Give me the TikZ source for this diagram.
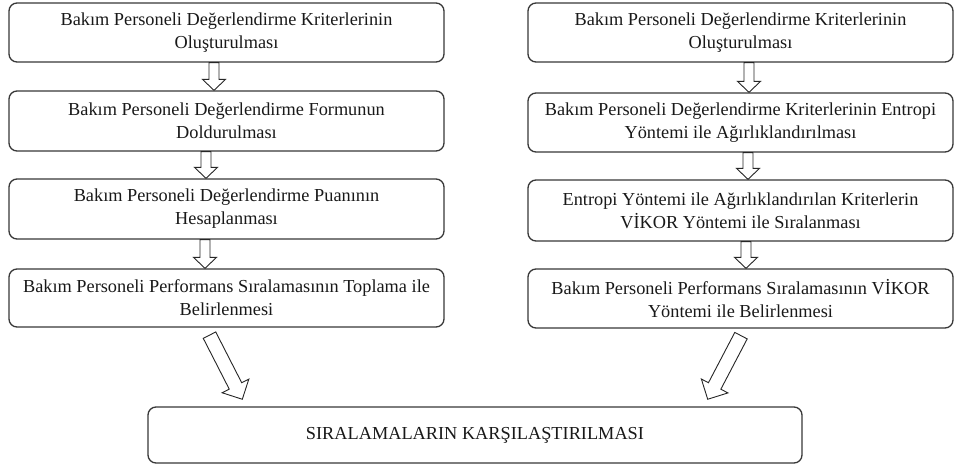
\documentclass[tikz,border=0pt]{standalone}
\usepackage{fontspec}
\setmainfont{Liberation Serif}
\usetikzlibrary{calc}
\newcommand{\fatarrow}[5]{%
  \draw[fatarr] let \p1=#1, \p2=#2,
    \n1={atan2(\y2-\y1,\x2-\x1)}, \n2={veclen(\x2-\x1,\y2-\y1)} in
    [shift={(\p1)}, rotate=\n1]
    (0pt,-#3pt) -- (\n2-#5pt,-#3pt) -- (\n2-#5pt,-#4pt) -- (\n2,0pt)
    -- (\n2-#5pt,#4pt) -- (\n2-#5pt,#3pt) -- (0pt,#3pt) -- cycle;}
\begin{document}
\begin{tikzpicture}[x=1pt,y=1pt,
  box/.style={draw=black!78, line width=1.3pt, rounded corners=8pt, align=center,
    font=\fontsize{18.3}{23}\selectfont, inner sep=0pt, text=black!90},
  lbox/.style={box, minimum width=435pt},
  rbox/.style={box, minimum width=425pt},
  fatarr/.style={draw=black!85, line width=0.9pt, fill=white, line join=miter}]
\useasboundingbox (0,0) rectangle (954,-469);
\fill[white] (0,0) rectangle (954,-469);
% left column
\node[lbox, minimum height=59pt] (L1) at (226.5,-32.5) {Bakım Personeli Değerlendirme Kriterlerinin\\Oluşturulması};
\node[lbox, minimum height=60pt] (L2) at (226.5,-121) {Bakım Personeli Değerlendirme Formunun\\Doldurulması};
\node[lbox, minimum height=60pt] (L3) at (226.5,-209) {Bakım Personeli Değerlendirme Puanının\\Hesaplanması};
\node[lbox, minimum height=58pt] (L4) at (226.5,-298) {Bakım Personeli Performans Sıralamasının Toplama ile\\Belirlenmesi};
% right column
\node[rbox, minimum height=59pt] (R1) at (740.5,-32.5) {Bakım Personeli Değerlendirme Kriterlerinin\\Oluşturulması};
\node[rbox, minimum height=59pt] (R2) at (740.5,-122.5) {Bakım Personeli Değerlendirme Kriterlerinin Entropi\\Yöntemi ile Ağırlıklandırılması};
\node[rbox, minimum height=61pt] (R3) at (740.5,-210.5) {Entropi Yöntemi ile Ağırlıklandırılan Kriterlerin\\VİKOR Yöntemi ile Sıralanması};
\node[rbox, minimum height=59pt] (R4) at (740.5,-298.5) {Bakım Personeli Performans Sıralamasının VİKOR\\Yöntemi ile Belirlenmesi};
% bottom
\node[box, minimum width=654pt, minimum height=56pt] (B) at (475,-435) {SIRALAMALARIN KARŞILAŞTIRILMASI};
% vertical arrows
\fatarrow{($(L1.south)+(-12.5,0)$)}{($(L2.north)+(-12.5,0)$)}{5}{11.5}{11}
\fatarrow{($(L2.south)+(-20.5,0)$)}{($(L3.north)+(-20.5,0)$)}{5}{11.5}{11}
\fatarrow{($(L3.south)+(-21.5,0)$)}{($(L4.north)+(-21.5,0)$)}{5}{11.5}{11}
\fatarrow{($(R1.south)+(8.5,0)$)}{($(R2.north)+(8.5,0)$)}{5}{11.5}{11}
\fatarrow{($(R2.south)+(7.5,0)$)}{($(R3.north)+(7.5,0)$)}{5}{11.5}{11}
\fatarrow{($(R3.south)+(5.5,0)$)}{($(R4.north)+(5.5,0)$)}{5}{11.5}{11}
% diagonal arrows
\fatarrow{($(L4.south)+(-17,-7.5)$)}{($(B.north west)+(95,7)$)}{7}{15}{15}
\fatarrow{($(R4.south)+(0.5,-7)$)}{($(B.north east)+(-95,7)$)}{7}{15}{15}
\end{tikzpicture}
\end{document}
